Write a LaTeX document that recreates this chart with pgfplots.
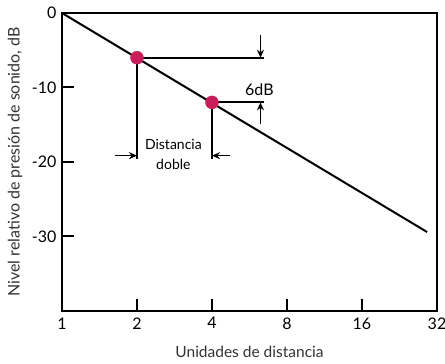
\documentclass[border=0pt]{standalone}
\usepackage{fontspec}
\setmainfont{Lato}
\usepackage{pgfplots}
\pgfplotsset{compat=1.18}
\usetikzlibrary{arrows.meta}
\definecolor{dotc}{RGB}{200,30,90}
\begin{document}
\begin{tikzpicture}
\useasboundingbox (-62pt,-53pt) rectangle (383pt,311pt);
\begin{axis}[
  scale only axis, width=375pt, height=298pt,
  xmode=log, log basis x=2,
  xmin=1, xmax=32, ymin=-40, ymax=0,
  xtick={1,2,4,8,16,32}, xticklabels={1,2,4,8,16,32},
  ytick={0,-10,-20,-30}, yticklabels={0,-10,-20,-30},
  tick align=inside, xtick pos=lower, ytick pos=left,
  major tick length=12pt,
  tick style={black, line width=2pt},
  axis line style={line width=2pt},
  /pgf/number format/assume math mode=true,
  ticklabel style={font=\fontsize{16}{18}\selectfont},
  xticklabel style={yshift=-3pt},
  yticklabel style={xshift=-2pt},
  xlabel={Unidades de distancia},
  ylabel={Nivel relativo de presión de sonido, dB},
  every axis x label/.style={at={(axis description cs:0.5,0)}, anchor=center, yshift=-41pt, font=\fontsize{15.5}{17}\selectfont, text=black!80},
  every axis y label/.style={at={(axis description cs:0,0.5)}, anchor=center, xshift=-47pt, rotate=90, font=\fontsize{16}{18}\selectfont, text=black!80},
  clip=false,
]
\addplot[black, line width=2pt] coordinates {(1,0) (29.2,-29.4)};
\draw[line width=2pt] (axis cs:2,-6) -- (axis cs:6.46,-6);
\draw[line width=2pt] (axis cs:4,-12) -- (axis cs:6.46,-12);
\draw[line width=1.4pt, -{Stealth[length=8pt,width=7pt]}] (axis cs:6.26,-2.9) -- (axis cs:6.26,-6);
\draw[line width=1.4pt, -{Stealth[length=8pt,width=7pt]}] (axis cs:6.26,-14.9) -- (axis cs:6.26,-12);
\node[font=\fontsize{16}{18}\selectfont] at (axis cs:6.2,-10.3) {6dB};
\draw[line width=2pt] (axis cs:2,-6) -- (axis cs:2,-19.6);
\draw[line width=2pt] (axis cs:4,-12) -- (axis cs:4,-19.6);
\draw[line width=1.4pt, -{Stealth[length=8pt,width=7pt]}] (axis cs:1.63,-19.15) -- (axis cs:2,-19.15);
\draw[line width=1.4pt, -{Stealth[length=8pt,width=7pt]}] (axis cs:4.74,-19.15) -- (axis cs:4,-19.15);
\node[font=\fontsize{14}{20}\selectfont, align=center] at (axis cs:2.8,-19.05) {Distancia\\doble};
\addplot[only marks, mark=*, mark size=6.5pt, color=dotc] coordinates {(2,-6) (4,-12)};
\end{axis}
\end{tikzpicture}
\end{document}
